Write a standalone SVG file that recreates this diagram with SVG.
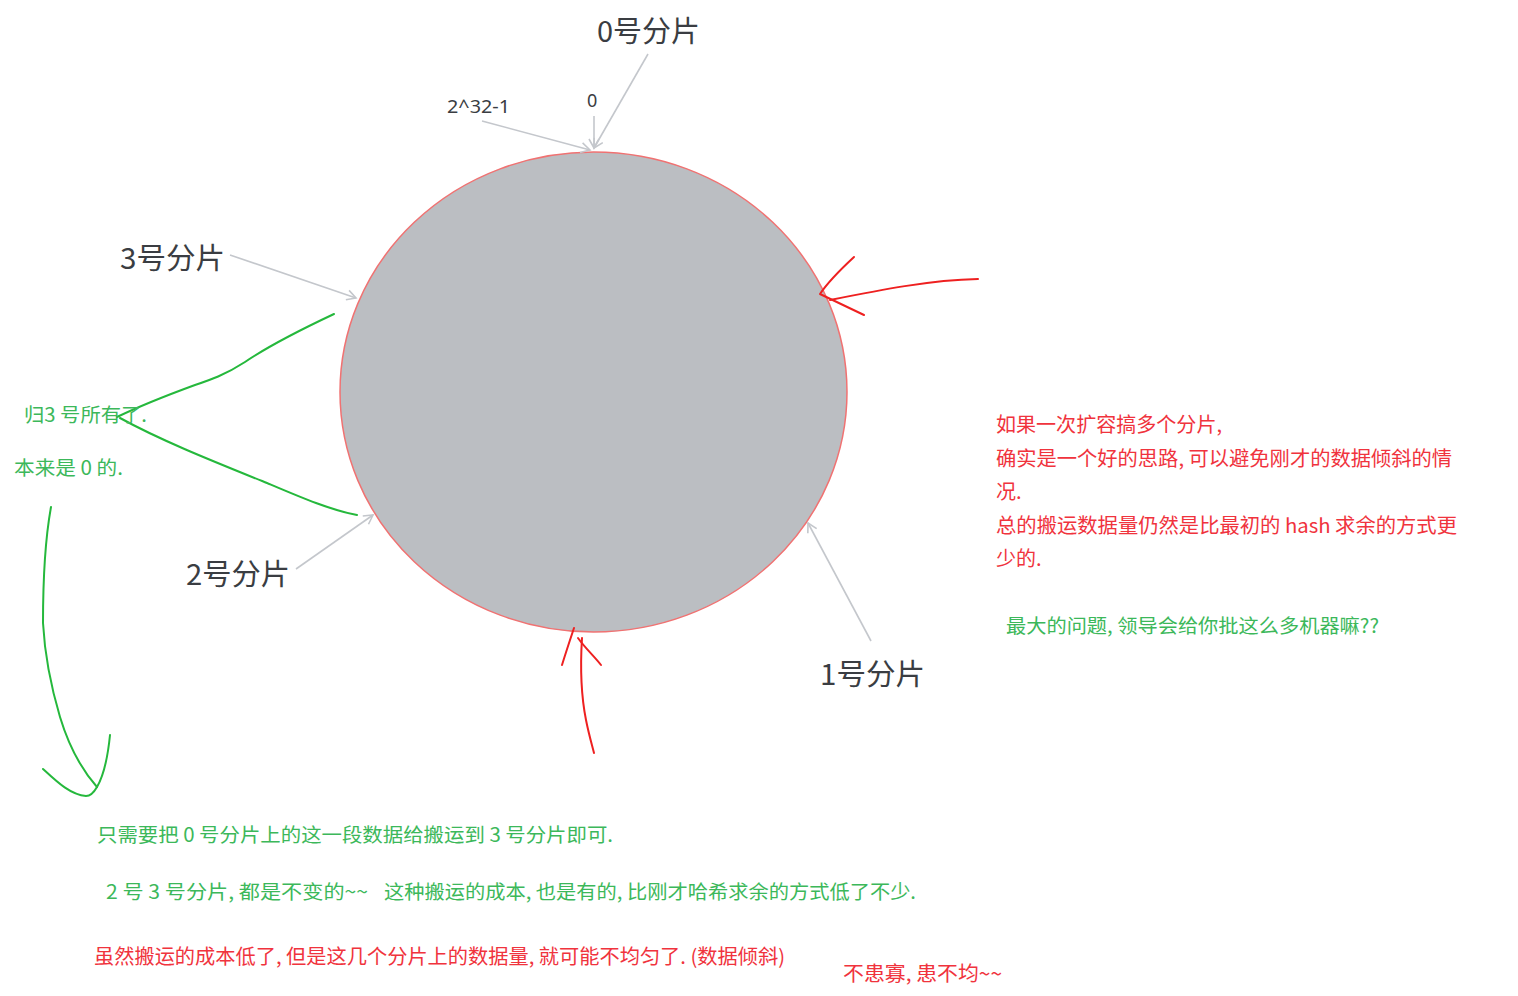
<svg xmlns="http://www.w3.org/2000/svg" width="1518" height="996" viewBox="0 0 1518 996">
<style>
.lbl{font-family:"Noto Sans CJK SC","Noto Sans",sans-serif;font-size:29px;fill:#3a3d42}
.sm{font-family:"Noto Sans","Noto Sans CJK SC",sans-serif;font-size:18px;fill:#3a3d42}
.g{font-family:"Noto Sans CJK SC",sans-serif;font-size:19.5px;fill:#3cb85a}
.r{font-family:"Noto Sans CJK SC",sans-serif;font-size:20px;fill:#f0333d}
.gl{fill:none;stroke:#c4c7cc;stroke-width:1.6}
.rl{fill:none;stroke:#ee2020;stroke-width:2;stroke-linecap:round;stroke-linejoin:round}
.grn{fill:none;stroke:#25b83c;stroke-width:2;stroke-linecap:round;stroke-linejoin:round}
</style>
<defs>
<marker id="ah" markerWidth="12" markerHeight="12" refX="10" refY="6" orient="auto" markerUnits="userSpaceOnUse">
<path d="M1,1 L10,6 L1,11" fill="none" stroke="#c4c7cc" stroke-width="1.6"/>
</marker>
</defs>
<rect width="1518" height="996" fill="#ffffff"/>
<g id="ring">
<ellipse cx="593.5" cy="392" rx="253.5" ry="240" fill="#bbbec2" stroke="#f07272" stroke-width="1.5"/>
</g>
<g id="shard0"><text class="lbl" x="597" y="42" textLength="103" lengthAdjust="spacingAndGlyphs">0号分片</text></g>
<g id="shard3"><text class="lbl" x="120" y="269" textLength="105" lengthAdjust="spacingAndGlyphs">3号分片</text></g>
<g id="shard2"><text class="lbl" x="186" y="585" textLength="104" lengthAdjust="spacingAndGlyphs">2号分片</text></g>
<g id="shard1"><text class="lbl" x="820" y="685" textLength="105" lengthAdjust="spacingAndGlyphs">1号分片</text></g>
<g id="label-max"><text class="sm" x="447" y="113" textLength="63" lengthAdjust="spacingAndGlyphs">2^32-1</text></g>
<g id="label-zero"><text class="sm" x="587" y="107">0</text></g>
<g id="connectors">
<line class="gl" x1="648" y1="54" x2="594" y2="148" marker-end="url(#ah)"/>
<line class="gl" x1="594" y1="116" x2="594" y2="148" marker-end="url(#ah)"/>
<line class="gl" x1="482" y1="121" x2="590" y2="150" marker-end="url(#ah)"/>
<line class="gl" x1="230" y1="255" x2="356" y2="298" marker-end="url(#ah)"/>
<line class="gl" x1="296" y1="569" x2="373" y2="515" marker-end="url(#ah)"/>
<line class="gl" x1="871" y1="641" x2="808" y2="523" marker-end="url(#ah)"/>
<path class="rl" d="M978,279 C930,280 880,290 830,300"/>
<path class="rl" d="M854,257 C840,270 828,282 820,294 L864,315"/>
<path class="rl" d="M582,638 C580,670 582,700 586,720 C589,735 592,745 594,753"/>
<path class="rl" d="M574,628 C570,640 566,652 562,665"/>
<path class="rl" d="M578,638 C585,648 594,656 601,665"/>
<path class="grn" d="M334,314 C300,330 270,345 245,362 C225,375 210,380 195,385 C165,396 140,406 117,417"/>
<path class="grn" d="M120,418 C160,440 210,460 267,483 C300,497 330,510 357,515"/>
<path class="grn" d="M51,507 C45,540 43,580 43,623 C45,660 52,690 60,717 C70,750 82,770 97,787"/>
<path class="grn" d="M110,735 C108,755 104,775 97,787 C93,794 90,796 86,796 C70,795 55,780 43,769"/>
</g>
<g id="note-left">
<text class="g" x="24" y="422" textLength="123" lengthAdjust="spacingAndGlyphs">归3 号所有了.</text>
<text class="g" x="14" y="475" textLength="109" lengthAdjust="spacingAndGlyphs">本来是 0 的.</text>
</g>
<g id="note-right">
<text class="r" x="996" y="432" textLength="226" lengthAdjust="spacingAndGlyphs">如果一次扩容搞多个分片,</text>
<text class="r" x="996" y="466" textLength="456" lengthAdjust="spacingAndGlyphs">确实是一个好的思路, 可以避免刚才的数据倾斜的情</text>
<text class="r" x="996" y="499">况.</text>
<text class="r" x="996" y="533" textLength="461" lengthAdjust="spacingAndGlyphs">总的搬运数据量仍然是比最初的 hash 求余的方式更</text>
<text class="r" x="996" y="566">少的.</text>
<text class="g" x="1006" y="633" textLength="373" lengthAdjust="spacingAndGlyphs">最大的问题, 领导会给你批这么多机器嘛??</text>
</g>
<g id="note-bottom">
<text class="g" x="97" y="842" textLength="516" lengthAdjust="spacingAndGlyphs">只需要把 0 号分片上的这一段数据给搬运到 3 号分片即可.</text>
<text class="g" x="106" y="899" textLength="262" lengthAdjust="spacingAndGlyphs">2 号 3 号分片, 都是不变的~~</text>
<text class="g" x="384" y="899" textLength="532" lengthAdjust="spacingAndGlyphs">这种搬运的成本, 也是有的, 比刚才哈希求余的方式低了不少.</text>
<text class="r" x="94" y="964" textLength="691" lengthAdjust="spacingAndGlyphs">虽然搬运的成本低了, 但是这几个分片上的数据量, 就可能不均匀了. (数据倾斜)</text>
<text class="r" x="843" y="981" textLength="159" lengthAdjust="spacingAndGlyphs">不患寡, 患不均~~</text>
</g>
</svg>
